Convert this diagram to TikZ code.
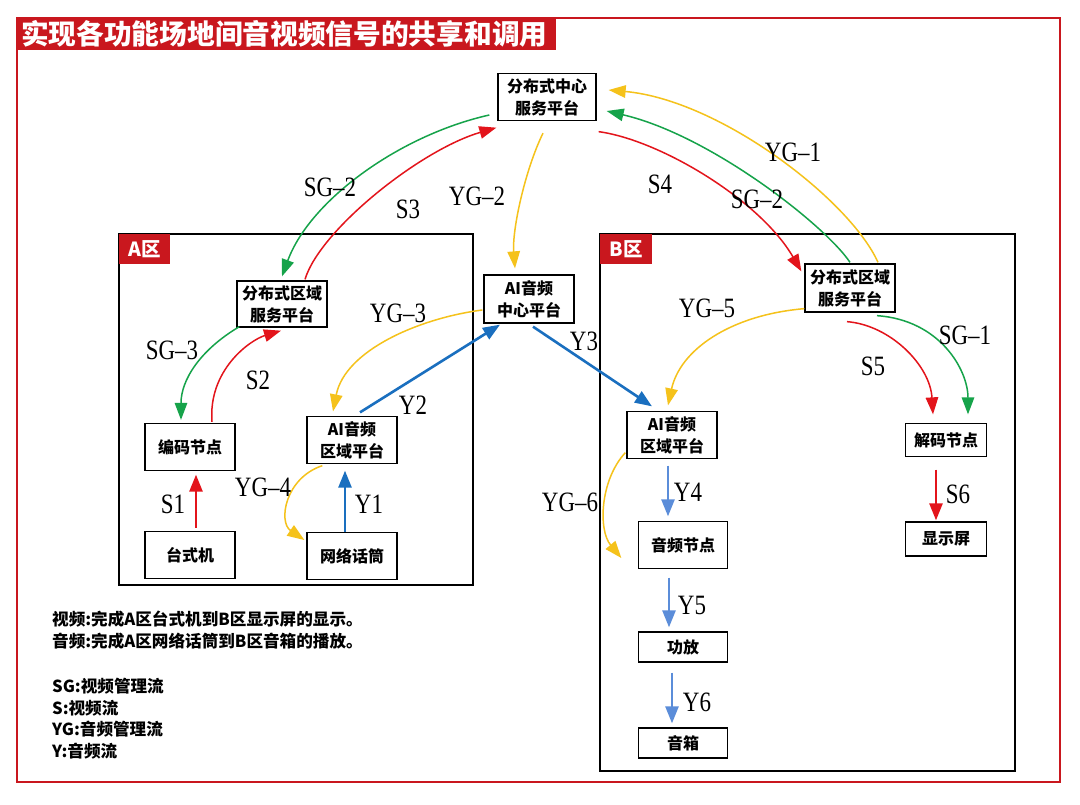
\documentclass[tikz,border=0pt]{standalone}
\usepackage{fontspec}
\newfontfamily\cjk{Noto Sans CJK SC}
\newfontfamily\lbl{Liberation Serif}[FakeStretch=0.82]
\usetikzlibrary{arrows.meta}
\definecolor{fr}{HTML}{C9171E}
\definecolor{cr}{HTML}{E3141B}
\definecolor{cg}{HTML}{16A34A}
\definecolor{cy}{HTML}{F5C21B}
\definecolor{cb}{HTML}{1A6FBF}
\definecolor{clb}{HTML}{5B8DD9}
\begin{document}
\begin{tikzpicture}[x=1pt,y=-1pt,
 box/.style={draw=black,line width=1.3pt,inner sep=0pt,align=center,minimum width=90pt,minimum height=47pt,font=\cjk\bfseries\fontsize{16}{22}\selectfont},
 lab/.style={font=\lbl\fontsize{28}{28}\selectfont,inner sep=0pt},
 tab/.style={fill=fr,text=white,inner sep=0pt,font=\cjk\bfseries\fontsize{19.5}{19.5}\selectfont},
 leg/.style={anchor=west,inner sep=0pt,font=\cjk\bfseries\fontsize{16.6}{16.6}\selectfont},
 cur/.style={line width=1.5pt,-{Triangle[length=17pt,width=12.5pt]}},
 str/.style={line width=2.6pt,-{Triangle[length=17pt,width=13pt]}},
 zone/.style={draw=black,line width=1.3pt}
]
\useasboundingbox (0,0) rectangle (1080,804);
\fill[white] (0,0) rectangle (1080,804);
% frame and title
\draw[fr,line width=2pt] (17,18) rectangle (1060,782);
\fill[fr] (17,17) rectangle (556,50);
\node[anchor=west,text=white,inner sep=0pt,font=\cjk\bfseries\fontsize{27.7}{27.7}\selectfont] (title) at (21,34) {实现各功能场地间音视频信号的共享和调用};
% zones
\draw[zone] (119,234) rectangle (473,585);
\draw[zone] (600,234) rectangle (1015,771);
\fill[fr] (119,234) rectangle (170,264);
\node[tab] (tabA) at (144.5,249) {A区};
\fill[fr] (600,234) rectangle (652,264);
\node[tab] (tabB) at (626,249) {B区};
% nodes
\node[box,minimum width=98pt] (cen) at (547,97) {分布式中心\\服务平台};
\node[box,minimum height=46pt] (aDist) at (282,304) {分布式区域\\服务平台};
\node[box] (enc) at (190,447) {编码节点};
\node[box] (pc) at (190,555) {台式机};
\node[box] (aAI) at (352,440) {AI音频\\区域平台};
\node[box] (mic) at (352,556) {网络话筒};
\node[box,minimum height=48pt] (aiCen) at (529,299) {AI音频\\中心平台};
\node[box,minimum height=48pt] (bDist) at (850,288) {分布式区域\\服务平台};
\node[box] (bAI) at (672,435) {AI音频\\区域平台};
\node[box,minimum width=81pt,minimum height=33pt] (dec) at (946,440) {解码节点};
\node[box,minimum width=81pt,minimum height=34pt] (scr) at (946,539) {显示屏};
\node[box,minimum width=89pt] (aud) at (683,545) {音频节点};
\node[box,minimum width=89pt,minimum height=30pt] (amp) at (683,647) {功放};
\node[box,minimum width=89pt,minimum height=30pt] (spk) at (683,743) {音箱};
% connectors
\draw[cur,cg] ([shift={(-8,18)}]cen.west) .. controls (400,135) and (310,200) .. ([shift={(0,-4)}]aDist.north);
\draw[cur,cr] ([shift={(23,-1)}]aDist.north) .. controls (320,230) and (420,150) .. ([shift={(-1,6.5)}]cen.south west);
\draw[cur,cy] ([shift={(-4,12)}]cen.south) .. controls (525,170) and (512,230) .. ([shift={(-14,-6)}]aiCen.north);
\draw[cur,cr] ([shift={(2,10.5)}]cen.south east) .. controls (660,140) and (760,200) .. ([shift={(-3,8)}]bDist.north west);
\draw[cur,cg] ([shift={(0,-1)}]bDist.north) .. controls (825,225) and (710,135) .. ([shift={(10,14)}]cen.east);
\draw[cur,cy] ([shift={(28,-1)}]bDist.north) .. controls (850,200) and (720,100) .. ([shift={(12,-7)}]cen.east);
\draw[cur,cg] ([shift={(3,-1)}]aDist.south west) .. controls (200,350) and (181,380) .. ([shift={(-9,-3)}]enc.north);
\draw[cur,cr] ([shift={(22,-1)}]enc.north) .. controls (208,370) and (250,340) .. ([shift={(-1,3)}]aDist.south);
\draw[str,cr] ([shift={(6,-3)}]pc.north) -- ([shift={(6,3.5)}]enc.south);
\draw[cur,cy] ([shift={(-1,11)}]aiCen.west) .. controls (420,318) and (345,350) .. ([shift={(-19,-4.5)}]aAI.north);
\draw[str,cb] ([shift={(8,-3.5)}]aAI.north) -- ([shift={(-29,1)}]aiCen.south);
\draw[str,cb] ([shift={(-7,0)}]mic.north) -- ([shift={(-7,6.5)}]aAI.south);
\draw[cur,cy] ([shift={(16,1.5)}]aAI.south west) .. controls (285,478) and (278,522) .. ([shift={(-2,-16)}]mic.west);
\draw[str,cb] ([shift={(4,3)}]aiCen.south) -- ([shift={(-20,-4.5)}]bAI.north);
\draw[cur,cy] ([shift={(0,-4)}]bDist.south west) .. controls (730,315) and (680,350) .. ([shift={(-4,-5.5)}]bAI.north);
\draw[cur,cr] ([shift={(-3,9)}]bDist.south) .. controls (890,325) and (930,365) .. ([shift={(-13,-8.5)}]dec.north);
\draw[cur,cg] ([shift={(27,3)}]bDist.south) .. controls (940,320) and (968,370) .. ([shift={(22,-8.5)}]dec.north);
\draw[cur,cy] ([shift={(-1,-6.5)}]bAI.south west) .. controls (600,480) and (598,530) .. ([shift={(-16.5,13)}]aud.west);
\draw[str,clb] ([shift={(-4,6.5)}]bAI.south) -- ([shift={(-15,-4.5)}]aud.north);
\draw[str,clb] ([shift={(-14,8.5)}]aud.south) -- ([shift={(-14,-4)}]amp.north);
\draw[str,clb] ([shift={(-11,10)}]amp.south) -- ([shift={(-11,-4)}]spk.north);
\draw[str,cr] ([shift={(-10,12.5)}]dec.south) -- ([shift={(-10,-1)}]scr.north);
% labels
\node[lab] (lSG2a) at (330,187) {SG–2};
\node[lab] (lS3) at (408,209) {S3};
\node[lab] (lYG2) at (477,196) {YG–2};
\node[lab] (lS4) at (660,184) {S4};
\node[lab] (lSG2b) at (757,199) {SG–2};
\node[lab] (lYG1) at (793,152) {YG–1};
\node[lab] (lSG3) at (172,350) {SG–3};
\node[lab] (lS2) at (258,380) {S2};
\node[lab] (lYG3) at (398,313) {YG–3};
\node[lab] (lY2) at (413,405) {Y2};
\node[lab] (lYG4) at (263,487) {YG–4};
\node[lab] (lS1) at (173,504) {S1};
\node[lab] (lY1) at (369,504) {Y1};
\node[lab] (lY3) at (584,341) {Y3};
\node[lab] (lYG5) at (707,308) {YG–5};
\node[lab] (lSG1) at (965,335) {SG–1};
\node[lab] (lS5) at (873,366) {S5};
\node[lab] (lYG6) at (570,502) {YG–6};
\node[lab] (lY4) at (688,492) {Y4};
\node[lab] (lY5) at (692,605) {Y5};
\node[lab] (lY6) at (697,702) {Y6};
\node[lab] (lS6) at (958,494) {S6};
% legend
\node[leg] (g1) at (52,619) {视频:完成A区台式机到B区显示屏的显示。};
\node[leg] (g2) at (52,641) {音频:完成A区网络话筒到B区音箱的播放。};
\node[leg] (g3) at (52,686) {SG:视频管理流};
\node[leg] (g4) at (52,708) {S:视频流};
\node[leg] (g5) at (52,729) {YG:音频管理流};
\node[leg] (g6) at (52,751) {Y:音频流};
\end{tikzpicture}
\end{document}
